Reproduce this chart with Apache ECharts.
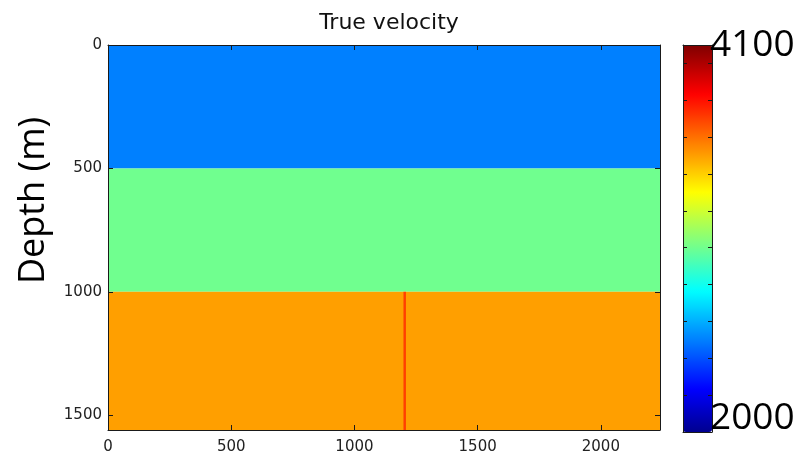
<!DOCTYPE html>
<html>
<head>
<meta charset="utf-8">
<script src="https://cdn.jsdelivr.net/npm/echarts@6/dist/echarts.min.js"></script>
<style>
html,body{margin:0;padding:0;background:#fff;}
#chart{width:800px;height:456px;}
</style>
</head>
<body>
<div id="chart"></div>
<script>
// ---- data ----
const titleText = 'True velocity';
const yAxisName = 'Depth (m)';
const xMax = 2240;            // horizontal extent (m)
const depthMax = 1560;        // depth extent (m)
const layerTop = [0, 500, 1000];
const layerBottom = [500, 1000, 1560];
const layerVelocity = [2500, 3000, 3500];
const faultX = [1199, 1209];
const faultDepth = [1000, 1560];
const faultVelocity = 3700;
const axisTicks = [0, 500, 1000, 1500, 2000];
const colorMin = 2000;
const colorMax = 4100;
const colorbarLabels = [2000, 4100];

// ---- build rectangles ----
const cells = [];
for (let i = 0; i < layerTop.length; i++) {
  cells.push([0, xMax, layerTop[i], layerBottom[i], layerVelocity[i]]);
}
cells.push([faultX[0], faultX[1], faultDepth[0], faultDepth[1], faultVelocity]);

// MATLAB style jet(64) colormap (style, not data)
function clamp(v){return Math.max(0, Math.min(1, v));}
const jetColors = [];
for (let k = 1; k <= 64; k++) {
  const t = k / 64;
  const r = clamp(1.5 - Math.abs(4 * t - 3));
  const g = clamp(1.5 - Math.abs(4 * t - 2));
  const b = clamp(1.5 - Math.abs(4 * t - 1));
  jetColors.push('rgb(' + Math.round(r*255) + ',' + Math.round(g*255) + ',' + Math.round(b*255) + ')');
}

const smallFont = 'DejaVu Sans';
const bigFont = 'Open Sans';
const frameColor = '#1a1a1a';
const tickFmt = v => axisTicks.indexOf(v) >= 0 ? String(v) : '';

const chart = echarts.init(document.getElementById('chart'), null, {renderer: 'canvas'});
chart.setOption({
  animation: false,
  backgroundColor: '#fff',
  title: {
    text: titleText,
    left: 384, textAlign: 'center', top: 7,
    textStyle: {fontFamily: smallFont, fontSize: 22, fontWeight: 'normal', color: '#111'}
  },
  grid: [
    {left: 108, top: 45, width: 552, height: 385},
    {left: 683, top: 45, width: 29, height: 387}
  ],
  xAxis: [
    {
      type: 'value', gridIndex: 0, min: 0, max: xMax, interval: 500, position: 'bottom', z: 10,
      axisLine: {show: true, onZero: false, lineStyle: {color: frameColor, width: 1}},
      axisTick: {show: true, inside: true, length: 5, lineStyle: {color: frameColor}},
      axisLabel: {show: true, margin: 10, formatter: tickFmt, fontFamily: smallFont, fontSize: 15, color: '#222'},
      splitLine: {show: false}
    },
    {
      type: 'value', gridIndex: 0, min: 0, max: xMax, interval: 500, position: 'top', z: 10,
      axisLine: {show: true, onZero: false, lineStyle: {color: frameColor, width: 1}},
      axisTick: {show: true, inside: true, length: 5, lineStyle: {color: frameColor}},
      axisLabel: {show: false}, splitLine: {show: false}
    },
    {
      type: 'value', gridIndex: 1, min: 0, max: 1, position: 'bottom', z: 10,
      axisLine: {show: true, onZero: false, lineStyle: {color: frameColor, width: 1}},
      axisTick: {show: false}, axisLabel: {show: false}, splitLine: {show: false}
    },
    {
      type: 'value', gridIndex: 1, min: 0, max: 1, position: 'top', z: 10,
      axisLine: {show: true, onZero: false, lineStyle: {color: frameColor, width: 1}},
      axisTick: {show: false}, axisLabel: {show: false}, splitLine: {show: false}
    }
  ],
  yAxis: [
    {
      type: 'value', gridIndex: 0, min: 0, max: depthMax, interval: 500, inverse: true, position: 'left', z: 10,
      name: yAxisName, nameLocation: 'middle', nameRotate: 90, nameGap: 56,
      nameTextStyle: {fontFamily: bigFont, fontSize: 36, color: '#000', padding: [0, 0, 0, 74]},
      axisLine: {show: true, onZero: false, lineStyle: {color: frameColor, width: 1}},
      axisTick: {show: true, inside: true, length: 5, lineStyle: {color: frameColor}},
      axisLabel: {show: true, margin: 6, formatter: tickFmt, fontFamily: smallFont, fontSize: 15, color: '#222'},
      splitLine: {show: false}
    },
    {
      type: 'value', gridIndex: 0, min: 0, max: depthMax, interval: 500, inverse: true, position: 'right', z: 10,
      axisLine: {show: true, onZero: false, lineStyle: {color: frameColor, width: 1}},
      axisTick: {show: true, inside: true, length: 5, lineStyle: {color: frameColor}},
      axisLabel: {show: false}, splitLine: {show: false}
    },
    {
      type: 'value', gridIndex: 1, min: colorMin, max: colorMax, interval: 200, position: 'left', z: 10,
      axisLine: {show: true, onZero: false, lineStyle: {color: frameColor, width: 1}},
      axisTick: {show: true, inside: true, length: 4, lineStyle: {color: frameColor}},
      axisLabel: {show: false}, splitLine: {show: false}
    },
    {
      type: 'value', gridIndex: 1, min: colorMin, max: colorMax, interval: 200, position: 'right', z: 10,
      axisLine: {show: true, onZero: false, lineStyle: {color: frameColor, width: 1}},
      axisTick: {show: true, inside: true, length: 4, lineStyle: {color: frameColor}},
      axisLabel: {
        show: true, margin: -2,
        formatter: v => {
          if (v === colorbarLabels[0]) return '{lo|' + v + '}';
          if (v === colorbarLabels[1]) return '{hi|' + v + '}';
          return '';
        },
        rich: {
          lo: {fontFamily: bigFont, fontSize: 37, color: '#000', padding: [0, 0, 28, 0]},
          hi: {fontFamily: bigFont, fontSize: 37, color: '#000', padding: [0, 0, 0, 0]}
        }
      },
      splitLine: {show: false}
    }
  ],
  visualMap: {
    type: 'continuous', min: colorMin, max: colorMax, dimension: 4, seriesIndex: 0,
    inRange: {color: jetColors},
    left: 683, top: 45, itemWidth: 29, itemHeight: 387, padding: 0,
    calculable: false, hoverLink: false, show: true, z: 1
  },
  series: [{
    type: 'custom',
    coordinateSystem: 'cartesian2d',
    xAxisIndex: 0, yAxisIndex: 0,
    encode: {x: [0, 1], y: [2, 3]},
    clip: true,
    data: cells,
    renderItem: function (params, api) {
      const p0 = api.coord([api.value(0), api.value(2)]);
      const p1 = api.coord([api.value(1), api.value(3)]);
      return {
        type: 'rect',
        shape: {
          x: Math.min(p0[0], p1[0]), y: Math.min(p0[1], p1[1]),
          width: Math.abs(p1[0] - p0[0]), height: Math.abs(p1[1] - p0[1])
        },
        style: {fill: api.visual('color')}
      };
    }
  }]
});
</script>
</body>
</html>
